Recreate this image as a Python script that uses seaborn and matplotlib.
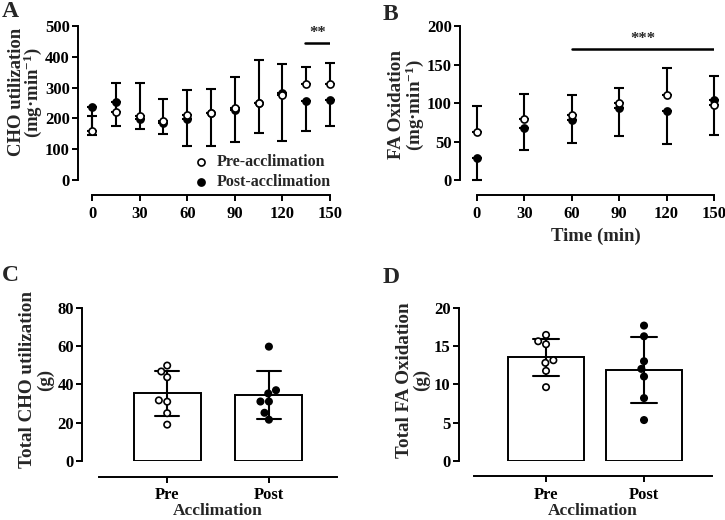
import numpy as np
import pandas as pd
import matplotlib
matplotlib.use("Agg")
import matplotlib.pyplot as plt
import seaborn as sns

# ==========================================================
# Data
# ==========================================================
time_a = [0, 15, 30, 45, 60, 75, 90, 105, 120, 135, 150]
pre_a = [159, 221, 209, 192, 210, 216, 233, 251, 275, 313, 313]
pre_a_sd = [50, 95, 107, 70, 81, 78, 102, 139, 102, 55, 66]
post_a = [237, 254, 197, 185, 198, 219, 227, 251, 281, 255, 260]
post_a_sd = [91, 78, 31, 37, 87, 108, 105, 97, 153, 96, 84]

time_b = [0, 30, 60, 90, 120, 150]
pre_b = [63, 79, 84, 100, 110, 97]
pre_b_sd = [33, 33, 26, 19, 36, 38]
post_b = [28, 67, 78, 93, 90, 104]
post_b_sd = [28, 28, 30, 36, 43, 46]

groups = ["Pre", "Post"]
pre_c = [46.8, 49.9, 43.8, 31.0, 31.7, 25.0, 19.0]
post_c = [59.8, 37.0, 35.3, 31.1, 31.1, 25.2, 21.6]
pre_d = [15.65, 15.26, 16.48, 13.17, 12.83, 11.78, 9.65]
post_d = [17.7, 16.3, 13.04, 12.04, 11.04, 8.22, 5.35]

sig_a = ((134, 150), 446, "**")
sig_b = ((60, 150), 170, "***")

# ==========================================================
# Style
# ==========================================================
sns.set_style("ticks")
plt.rcParams["font.family"] = ["Liberation Serif", "DejaVu Serif"]
plt.rcParams["font.weight"] = "bold"
plt.rcParams["axes.labelweight"] = "bold"
plt.rcParams["mathtext.fontset"] = "custom"
plt.rcParams["mathtext.rm"] = "Liberation Serif:bold"
plt.rcParams["mathtext.it"] = "Liberation Serif:bold"
plt.rcParams["mathtext.bf"] = "Liberation Serif:bold"

TICK_FS = 12
LABEL_FS = 13.7
LW = 1.4

fig = plt.figure(figsize=(7.25, 5.2), dpi=100)
ax_a = fig.add_axes([0.1269, 0.6538, 0.3283, 0.2962])
ax_b = fig.add_axes([0.6579, 0.6538, 0.3269, 0.2962])
ax_c = fig.add_axes([0.1366, 0.1135, 0.3283, 0.2942])
ax_d = fig.add_axes([0.6538, 0.1135, 0.3283, 0.2942])


def style_axis(ax, left_off, bottom_off):
    sns.despine(ax=ax, offset={"left": left_off, "bottom": bottom_off})
    for s in ("left", "bottom"):
        ax.spines[s].set_linewidth(LW)
        ax.spines[s].set_color("black")
    ax.tick_params(axis="both", direction="out", length=4, width=LW,
                   labelsize=TICK_FS, colors="black")
    ax.tick_params(axis="y", pad=2)
    for lab in ax.get_xticklabels() + ax.get_yticklabels():
        lab.set_fontweight("bold")


def time_panel(ax, t, pre, pre_sd, post, post_sd):
    zeros = np.zeros(len(t))
    ax.errorbar(t, post, yerr=[post_sd, zeros], fmt="none", ecolor="black",
                elinewidth=1.5, capsize=3.5, capthick=1.5, zorder=2, clip_on=False)
    ax.errorbar(t, pre, yerr=[zeros, pre_sd], fmt="none", ecolor="black",
                elinewidth=1.5, capsize=3.5, capthick=1.5, zorder=2, clip_on=False)
    sns.scatterplot(x=t, y=post, ax=ax, color="black", edgecolor="black",
                    linewidth=1.2, s=26, zorder=3, clip_on=False,
                    label="Post-acclimation")
    sns.scatterplot(x=t, y=pre, ax=ax, color="white", edgecolor="black",
                    linewidth=1.2, s=26, zorder=4, clip_on=False,
                    label="Pre-acclimation")


# ==========================================================
# A - CHO utilization over time
# ==========================================================
time_panel(ax_a, time_a, pre_a, pre_a_sd, post_a, post_a_sd)
ax_a.set_xlim(0, 150)
ax_a.set_ylim(0, 500)
ax_a.set_xticks(range(0, 151, 30))
ax_a.set_yticks(range(0, 501, 100))
ax_a.plot(sig_a[0], [sig_a[1]] * 2, color="black", lw=1.8)
ax_a.text(np.mean(sig_a[0]), sig_a[1] + 6, sig_a[2], ha="center", va="bottom",
          fontsize=12, fontweight="bold")
ax_a.set_ylabel("CHO utilization\n(mg·min$^{-1}$)", fontsize=13.5,
                linespacing=0.8)
ax_a.yaxis.set_label_coords(-0.20, 0.57)
ax_a.set_xlabel("")
handles, labels = ax_a.get_legend_handles_labels()
ax_a.legend(handles[::-1], labels[::-1], loc="lower left",
            bbox_to_anchor=(0.39, -0.115), frameon=False, borderpad=0,
            handlelength=1.0, handletextpad=0.5, labelspacing=0.25,
            prop={"family": "Liberation Serif", "weight": "bold", "size": 11.5})
style_axis(ax_a, 10, 11)

# ==========================================================
# B - FA oxidation over time
# ==========================================================
time_panel(ax_b, time_b, pre_b, pre_b_sd, post_b, post_b_sd)
ax_b.set_xlim(0, 150)
ax_b.set_ylim(0, 200)
ax_b.set_xticks(range(0, 151, 30))
ax_b.set_yticks(range(0, 201, 50))
ax_b.plot(sig_b[0], [sig_b[1]] * 2, color="black", lw=1.8)
ax_b.text(np.mean(sig_b[0]), sig_b[1] + 3, sig_b[2], ha="center", va="bottom",
          fontsize=12, fontweight="bold")
ax_b.set_ylabel("FA Oxidation\n(mg·min$^{-1}$)", fontsize=LABEL_FS,
                linespacing=0.9)
ax_b.yaxis.set_label_coords(-0.215, 0.49)
ax_b.set_xlabel("Time (min)", fontsize=13.5)
ax_b.get_legend().remove()
style_axis(ax_b, 12, 11)


# ==========================================================
# C / D - totals
# ==========================================================
def total_panel(ax, pre, post, width, capsize):
    df = pd.DataFrame({
        "Acclimation": ["Pre"] * len(pre) + ["Post"] * len(post),
        "Value": pre + post,
    })
    sns.barplot(data=df, x="Acclimation", y="Value", order=groups, ax=ax,
                errorbar="sd", capsize=capsize, width=width, color="white",
                saturation=1, edgecolor="black", linewidth=1.4,
                err_kws={"color": "black", "linewidth": 1.5})
    sns.swarmplot(data=df, x="Acclimation", y="Value", order=groups, ax=ax,
                  hue="Acclimation", hue_order=groups,
                  palette={"Pre": "white", "Post": "black"},
                  edgecolor="black", linewidth=1.2, size=4.6, zorder=4,
                  legend=False)
    ax.set_xlabel("Acclimation", fontsize=12.5, labelpad=0)


total_panel(ax_c, pre_c, post_c, 0.66, 0.24)
ax_c.set_xlim(-0.67, 1.67)
ax_c.set_ylim(0, 80)
ax_c.set_yticks(range(0, 81, 20))
ax_c.set_ylabel("Total CHO utilization\n(g)", fontsize=LABEL_FS,
                linespacing=1.0)
ax_c.yaxis.set_label_coords(-0.19, 0.53)
style_axis(ax_c, 12, 11.5)

total_panel(ax_d, pre_d, post_d, 0.78, 0.27)
ax_d.set_xlim(-0.735, 1.694)
ax_d.set_ylim(0, 20)
ax_d.set_yticks(range(0, 21, 5))
ax_d.set_ylabel("Total FA Oxidation\n(g)", fontsize=LABEL_FS,
                linespacing=1.0)
ax_d.yaxis.set_label_coords(-0.185, 0.53)
style_axis(ax_d, 11, 11)

# panel letters
for letter, (x, y) in zip("ABCD", [(0.002, 0.998), (0.528, 0.993),
                                   (0.002, 0.490), (0.528, 0.487)]):
    fig.text(x, y, letter, fontsize=17, fontweight="bold", ha="left", va="top")

fig.savefig("out.png", dpi=100)
